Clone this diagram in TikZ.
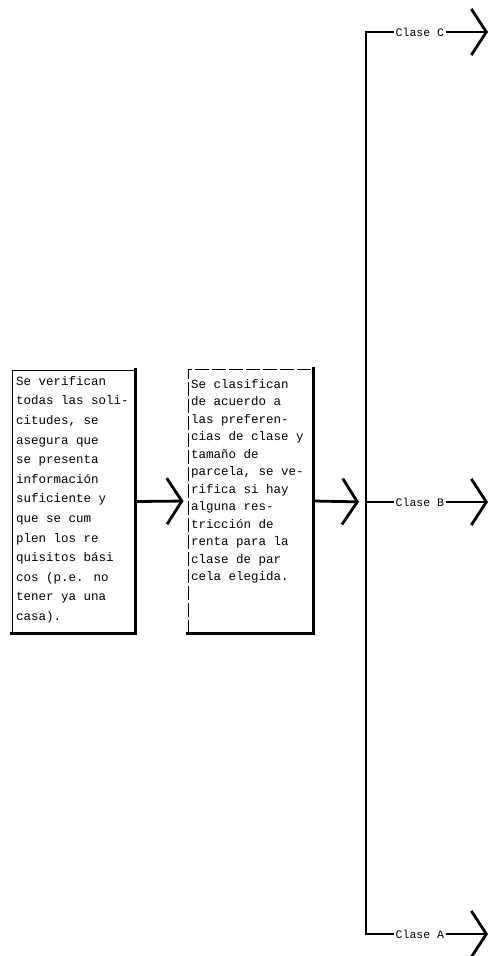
\documentclass[tikz,border=0pt]{standalone}
\usepackage{fontspec}
\setmainfont{Liberation Mono}
\usetikzlibrary{arrows.meta}
\begin{document}
\begin{tikzpicture}[x=1pt,y=-1pt,
  frame/.style={draw=black, line width=0.9pt, inner sep=0pt},
  dframe/.style={draw=black, line width=0.9pt, dash pattern=on 14pt off 3pt, inner sep=0pt},
  shadowedge/.style={line width=3pt, line cap=rect},
  bodytext/.style={anchor=north west, align=left, inner sep=0pt},
  lbl/.style={font=\fontsize{11.5}{12}\selectfont, inner sep=1.5pt},
  conn/.style={line width=2.8pt},
  arr/.style={line width=2.8pt, -{Straight Barb[length=15pt,width=46pt]}}
]
\path[use as bounding box, fill=white] (0,0) rectangle (501,956);

% boxes
\node[frame, minimum width=123pt, minimum height=263pt] (b1) at (73.5,501.5) {};
\node[dframe, minimum width=125pt, minimum height=264pt] (b2) at (250.5,501) {};
\draw[shadowedge] (b1.north east) -- (b1.south east) -- (b1.south west);
\draw[shadowedge] (b2.north east) -- (b2.south east) -- (b2.south west);

\node[bodytext, font=\fontsize{12.5}{19.6}\selectfont] (t1) at (16,376) {Se verifican\\todas las soli-\\citudes, se\\asegura que\\se presenta\\información\\suficiente y\\que se cum\\plen los re\\quisitos bási\\cos (p.e. no\\tener ya una\\casa).};
\node[bodytext, font=\fontsize{12.5}{17.5}\selectfont] (t2) at (191,379) {Se clasifican\\de acuerdo a\\las preferen-\\cias de clase y\\tamaño de\\parcela, se ve-\\rifica si hay\\alguna res-\\tricción de\\renta para la\\clase de par\\cela elegida.};

% spine
\coordinate (top) at (366,32);
\coordinate (mid) at (366,502);
\coordinate (bot) at (366,934);
\draw[conn, line cap=rect] (top) -- (bot);

% connectors between boxes
\draw[arr, shorten >=4pt] (b1.east) -- (b2.west);
\draw[arr, shorten >=7pt] (b2.east) -- (mid);

% branches
\node[lbl, anchor=west] (lC) at (394,32) {Clase C};
\node[lbl, anchor=west] (lB) at (394,502) {Clase B};
\node[lbl, anchor=west] (lA) at (394,934) {Clase A};
\coordinate (eC) at (488,32);
\coordinate (eB) at (488,502);
\coordinate (eA) at (488,934);
\draw[conn] (top) -- (lC.west);
\draw[conn] (mid) -- (lB.west);
\draw[conn] (bot) -- (lA.west);
\draw[arr] (lC.east) -- (eC);
\draw[arr] (lB.east) -- (eB);
\draw[arr] (lA.east) -- (eA);
\end{tikzpicture}
\end{document}
